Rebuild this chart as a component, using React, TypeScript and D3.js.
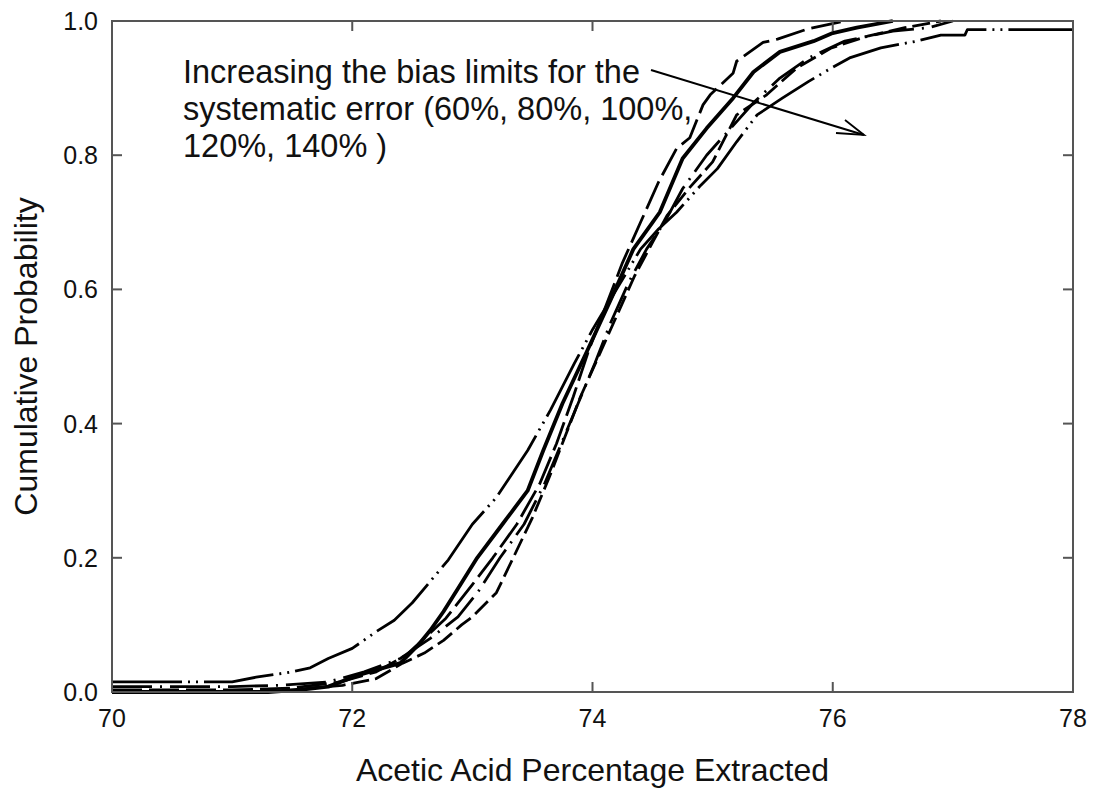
import React from "react";
import * as d3 from "d3";

const xTicks = [70, 72, 74, 76, 78];
const yTicks = [0, 0.2, 0.4, 0.6, 0.8, 1.0];

// Each series: [x, cumulative probability]
const series60: [number, number][] = [
  [70, 0], [71.3, 0], [71.6, 0.004], [71.8, 0.008], [72.05, 0.025], [72.2, 0.033], [72.4, 0.043],
  [72.55, 0.07], [72.65, 0.092], [72.76, 0.12], [72.9, 0.16], [73.04, 0.2], [73.25, 0.25],
  [73.46, 0.3], [73.59, 0.36], [73.75, 0.43], [73.96, 0.51], [74.15, 0.584], [74.34, 0.66],
  [74.5, 0.7], [74.56, 0.715], [74.75, 0.795], [74.95, 0.84], [75.17, 0.885], [75.34, 0.924],
  [75.56, 0.954], [75.84, 0.97], [76.0, 0.982], [76.2, 0.99], [76.5, 1.0],
];
const series80: [number, number][] = [
  [70, 0.003], [71.0, 0.003], [71.5, 0.006], [71.9, 0.015], [72.2, 0.03], [72.45, 0.055],
  [72.6, 0.08], [72.78, 0.11], [73.0, 0.16], [73.17, 0.2], [73.37, 0.25], [73.56, 0.31],
  [73.7, 0.37], [73.84, 0.44], [73.97, 0.51], [74.1, 0.57], [74.25, 0.64], [74.4, 0.7],
  [74.55, 0.76], [74.7, 0.81], [74.81, 0.826], [74.92, 0.875], [74.98, 0.89], [75.17, 0.922],
  [75.2, 0.94], [75.42, 0.968], [75.54, 0.973], [75.79, 0.988], [76.1, 1.0],
];
const series100: [number, number][] = [
  [70, 0.008], [71.0, 0.008], [71.4, 0.01], [71.8, 0.015], [72.1, 0.03], [72.4, 0.05],
  [72.65, 0.08], [72.88, 0.112], [73.05, 0.15], [73.23, 0.2], [73.43, 0.25], [73.6, 0.31],
  [73.74, 0.37], [73.88, 0.43], [74.02, 0.49], [74.15, 0.55], [74.3, 0.61], [74.45, 0.66],
  [74.6, 0.7], [74.75, 0.75], [74.95, 0.8], [75.15, 0.84], [75.35, 0.88], [75.56, 0.915],
  [75.8, 0.945], [76.1, 0.97], [76.5, 0.985], [76.8, 0.99], [77.0, 1.0],
];
const series120: [number, number][] = [
  [70, 0], [71.5, 0.001], [71.65, 0.006], [71.92, 0.01], [72.2, 0.02], [72.42, 0.043],
  [72.6, 0.058], [72.76, 0.077], [72.91, 0.1], [73.0, 0.112], [73.2, 0.148], [73.34, 0.2],
  [73.5, 0.26], [73.64, 0.32], [73.77, 0.38], [73.9, 0.44], [74.05, 0.5], [74.2, 0.56],
  [74.35, 0.62], [74.5, 0.67], [74.62, 0.71], [74.8, 0.75], [75.0, 0.79], [75.2, 0.86],
  [75.45, 0.89], [75.7, 0.93], [75.99, 0.96], [76.3, 0.978], [76.6, 0.99], [76.9, 1.0],
];
const series140: [number, number][] = [
  [70, 0.015], [71.0, 0.015], [71.2, 0.022], [71.5, 0.03], [71.65, 0.036], [71.8, 0.05],
  [72.0, 0.065], [72.2, 0.09], [72.35, 0.107], [72.5, 0.133], [72.65, 0.165], [72.8, 0.197],
  [73.0, 0.25], [73.2, 0.29], [73.46, 0.36], [73.65, 0.42], [73.85, 0.49], [74.0, 0.54],
  [74.2, 0.6], [74.4, 0.66], [74.55, 0.69], [74.7, 0.715], [74.9, 0.755], [75.04, 0.78],
  [75.2, 0.82], [75.37, 0.86], [75.58, 0.885], [75.8, 0.91], [75.99, 0.93], [76.14, 0.945],
  [76.4, 0.96], [76.7, 0.97], [76.9, 0.979], [77.1, 0.979], [77.12, 0.987], [78, 0.987],
];

const annotationLines = [
  "Increasing the bias limits for the",
  "systematic error (60%, 80%, 100%,",
  "120%, 140% )",
];

const W = 1093;
const H = 793;
const L = 112, T = 21, R = 1073, B = 692;

const curves = [
  { data: series60, width: 3.8, dash: "" },
  { data: series80, width: 2.8, dash: "30,7" },
  { data: series100, width: 2.8, dash: "40,8,2,8" },
  { data: series120, width: 2.8, dash: "18,6" },
  { data: series140, width: 2.8, dash: "70,6,2,6,2,6" },
];

export default function App() {
  const x = d3.scaleLinear().domain([70, 78]).range([L, R]);
  const y = d3.scaleLinear().domain([0, 1]).range([B, T]);
  const line = d3
    .line<[number, number]>()
    .x((d) => x(d[0]))
    .y((d) => y(d[1]))
    .curve(d3.curveLinear);

  const font = "'Liberation Sans', Arial, Helvetica, sans-serif";
  const tick = 10;

  return (
    <svg
      width={W}
      height={H}
      style={{ position: "absolute", left: 0, top: 0, background: "#fff" }}
      fontFamily={font}
    >
      <defs>
        <clipPath id="plotclip">
          <rect x={L} y={T - 2} width={R - L} height={B - T + 4} />
        </clipPath>
      </defs>
      <g clipPath="url(#plotclip)">
        {curves.map((c, i) => (
          <path
            key={i}
            d={line(c.data) || ""}
            fill="none"
            stroke="#000"
            strokeWidth={c.width}
            strokeDasharray={c.dash || undefined}
            strokeLinejoin="round"
          />
        ))}
      </g>
      <rect x={L} y={T} width={R - L} height={B - T} fill="none" stroke="#555" strokeWidth={2} />
      {xTicks.map((t) => (
        <g key={"x" + t}>
          <line x1={x(t)} x2={x(t)} y1={B} y2={B - tick} stroke="#555" strokeWidth={2} />
          <line x1={x(t)} x2={x(t)} y1={T} y2={T + tick} stroke="#555" strokeWidth={2} />
          <text x={x(t)} y={727} textAnchor="middle" fontSize={25} fill="#111">
            {t}
          </text>
        </g>
      ))}
      {yTicks.map((t) => (
        <g key={"y" + t}>
          <line x1={L} x2={L + tick} y1={y(t)} y2={y(t)} stroke="#555" strokeWidth={2} />
          <line x1={R} x2={R - tick} y1={y(t)} y2={y(t)} stroke="#555" strokeWidth={2} />
          <text x={98} y={y(t) + 9} textAnchor="end" fontSize={25} fill="#111">
            {t.toFixed(1)}
          </text>
        </g>
      ))}
      <text x={(L + R) / 2} y={781} textAnchor="middle" fontSize={32} fill="#111">
        Acetic Acid Percentage Extracted
      </text>
      <text
        transform={`translate(37, ${(T + B) / 2}) rotate(-90)`}
        textAnchor="middle"
        fontSize={32}
        fill="#111"
      >
        Cumulative Probability
      </text>
      {annotationLines.map((s, i) => (
        <text key={i} x={183} y={83 + i * 37} fontSize={32.5} fill="#111">
          {s}
        </text>
      ))}
      <line x1={651} y1={70} x2={864} y2={135} stroke="#000" strokeWidth={2} />
      <path d="M 836 133 L 864 135 L 845 120" fill="none" stroke="#000" strokeWidth={1.8} />
    </svg>
  );
}
